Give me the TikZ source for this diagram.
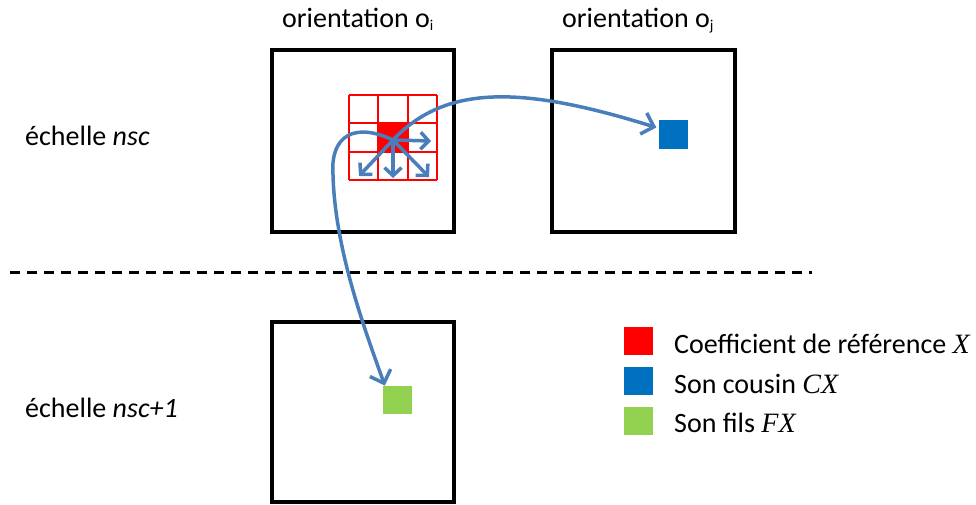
\documentclass[tikz,border=0pt]{standalone}
\usepackage{fontspec}
\setmainfont{Carlito}
\newfontfamily\mathserif{Liberation Serif}
\usetikzlibrary{arrows.meta}
\definecolor{arrowblue}{HTML}{4A7EBB}
\definecolor{refred}{HTML}{FF0000}
\definecolor{cousinblue}{HTML}{0070C0}
\definecolor{filsgreen}{HTML}{92D050}
\tikzset{
  frame/.style={draw=black, line width=4.5pt, inner sep=0pt},
  lab/.style={inner sep=0pt, anchor=base west, font=\fontsize{28}{34}\selectfont},
  sq/.style={inner sep=0pt, minimum width=29pt, minimum height=28.5pt, draw=none},
  gridline/.style={color=refred, line width=1.8pt},
  link/.style={draw=arrowblue, line width=3.5pt, line cap=round, -{Straight Barb[length=11pt,width=22pt,line width=3.5pt]}},
  shortlink/.style={draw=arrowblue, line width=3.5pt, -{Straight Barb[length=8pt,width=17pt,line width=3.5pt]}},
  sepline/.style={draw=black, line width=3pt, dash pattern=on 10pt off 7pt},
}
\newcommand\mvar[1]{{\mathserif\itshape #1}}
\newcommand\subidx[1]{{\fontsize{15}{15}\selectfont\raisebox{-3pt}{#1}}}
\begin{document}
\begin{tikzpicture}[x=1pt,y=-1pt]
\useasboundingbox (0,0) rectangle (976,504);
% titles
\node[lab] (ti) at (282,27) {orientation o\subidx{i}};
\node[lab] (tj) at (562,27) {orientation o\subidx{j}};
\node[lab] (s1) at (25,145) {échelle \textit{nsc}};
\node[lab] (s2) at (25,417) {échelle \textit{nsc+1}};
% frames
\node[frame, minimum width=182pt, minimum height=182pt] (oi) at (363,141) {};
\node[frame, minimum width=183pt, minimum height=182pt] (oj) at (643.5,141) {};
\node[frame, minimum width=182pt, minimum height=180pt] (ob) at (363,412) {};
% separator
\coordinate (d1) at (10,272);
\coordinate (d2) at (812,272);
\draw[sepline] (d1) -- (d2);
% grid with reference coefficient
\fill[refred] (378.3,123.3) rectangle (407.7,151.7);
\foreach \i in {0,...,3} {
  \draw[gridline] (349+\i*29.333,95) -- (349+\i*29.333,180);
  \draw[gridline] (349,95+\i*28.333) -- (437,95+\i*28.333);
}
% cousin and son
\node[sq, fill=cousinblue] (cx) at (673,134.5) {};
\node[sq, fill=filsgreen] (fx) at (397.5,400) {};
% neighbours arrows
\coordinate (c) at (393,140);
\coordinate (nr) at (431,141);
\coordinate (ndl) at (359,176);
\coordinate (nd) at (393,178);
\coordinate (ndr) at (429,177);
\draw[shortlink] (c) -- (nr);
\draw[shortlink] (c) -- (ndl);
\draw[shortlink] (c) -- (nd);
\draw[shortlink] (c) -- (ndr);
% long arrows
\draw[link] (c) .. controls (445,85) and (520,85) .. ([xshift=-2pt,yshift=7pt]cx.west);
\draw[link] (c) .. controls (355,122) and (330,135) .. (333,175)
   .. controls (335,250) and (365,330) .. ([xshift=2pt]fx.north west);
% legend
\node[sq, fill=refred] (lr) at (638.5,341) {};
\node[sq, fill=cousinblue] (lb) at (638.5,381) {};
\node[sq, fill=filsgreen] (lg) at (638.5,421) {};
\node[lab] (tr) at (674,353) {Coefficient de référence \mvar{X}};
\node[lab] (tb) at (674,393) {Son cousin \mvar{CX}};
\node[lab] (tg) at (674,432) {Son fils \mvar{FX}};
\end{tikzpicture}
\end{document}
